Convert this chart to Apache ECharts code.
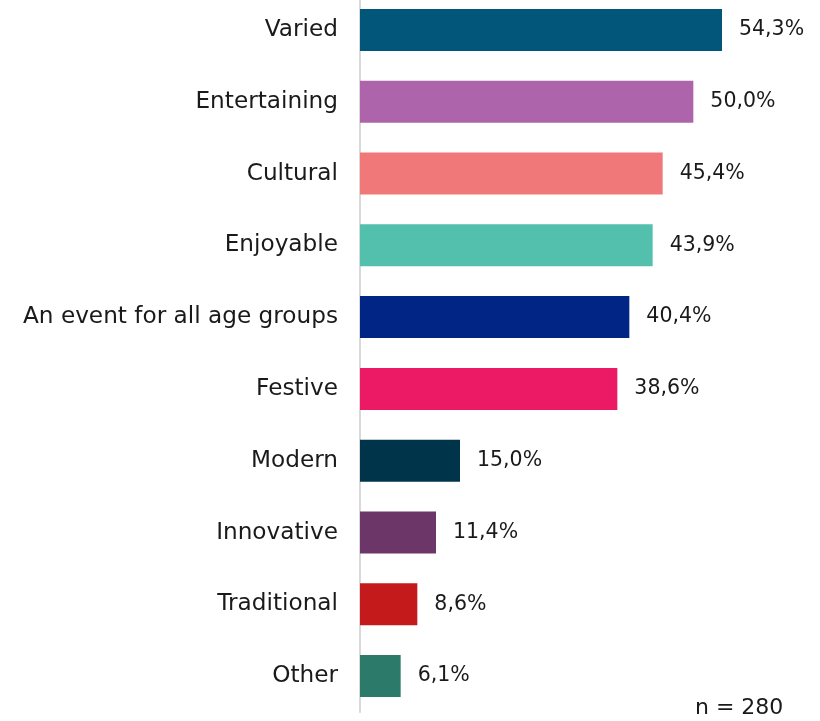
<!DOCTYPE html>
<html>
<head>
<meta charset="utf-8">
<script src="https://cdn.jsdelivr.net/npm/echarts@6/dist/echarts.min.js"></script>
<style>
  html, body { margin: 0; padding: 0; background: #ffffff; overflow: hidden; }
  #chart { position: absolute; left: 0; top: -6px; width: 820px; height: 727px; }
</style>
</head>
<body>
<div id="chart"></div>
<script>
// Survey answers, top to bottom
const categories = [
  'Varied', 'Entertaining', 'Cultural', 'Enjoyable', 'An event for all age groups',
  'Festive', 'Modern', 'Innovative', 'Traditional', 'Other'
];
// Share of respondents (%)
const shares = [54.3, 50.0, 45.4, 43.9, 40.4, 38.6, 15.0, 11.4, 8.6, 6.1];
const barColors = [
  '#02567A', '#AE64AA', '#F07878', '#52C0AD', '#012584',
  '#EC1A64', '#00344A', '#6C3668', '#C41A1B', '#2C7A69'
];
const sampleNote = 'n = 280';

const fontFamily = '"DejaVu Sans", sans-serif';

const chart = echarts.init(document.getElementById('chart'), null, { renderer: 'canvas' });

chart.setOption({
  animation: false,
  backgroundColor: '#ffffff',
  grid: { left: 360, right: 60, top: 0, height: 718, containLabel: false },
  xAxis: {
    type: 'value',
    min: 0,
    max: 60,
    show: false
  },
  yAxis: {
    type: 'category',
    inverse: true,
    data: categories,
    axisLine: { show: true, lineStyle: { color: '#d9d9d9', width: 2 } },
    axisTick: { show: false },
    axisLabel: {
      margin: 22,
      color: '#1a1a1a',
      fontFamily: fontFamily,
      fontSize: 23.2
    }
  },
  series: [{
    type: 'bar',
    data: shares.map((v, i) => ({ value: v, itemStyle: { color: barColors[i] } })),
    barWidth: 42,
    label: {
      show: true,
      position: 'right',
      distance: 17,
      color: '#1a1a1a',
      fontFamily: fontFamily,
      fontSize: 20.5,
      formatter: p => p.value.toFixed(1).replace('.', ',') + '%'
    }
  }],
  graphic: [{
    type: 'text',
    left: 695,
    top: 703,
    style: {
      text: sampleNote,
      fill: '#1a1a1a',
      font: '22px ' + fontFamily
    }
  }]
});
</script>
</body>
</html>
